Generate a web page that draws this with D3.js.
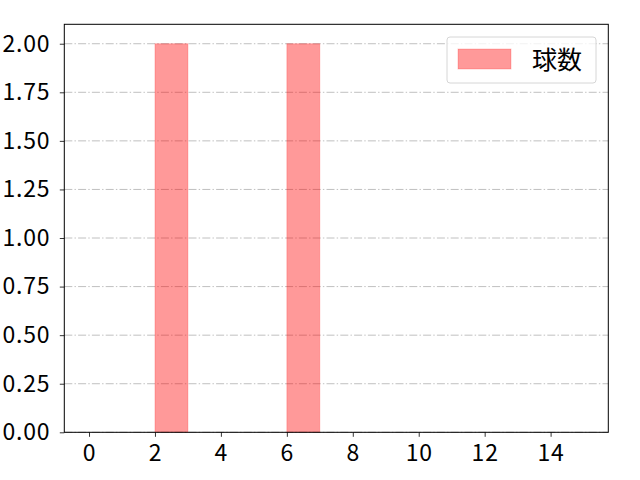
<!DOCTYPE html>
<html>
<head>
<meta charset="utf-8">
<script src="https://cdn.jsdelivr.net/npm/d3@7"></script>
<style>
  body { margin: 0; background: #fff; }
  text { font-family: "Noto Sans CJK JP", "DejaVu Sans", sans-serif; }
</style>
</head>
<body>
<div id="chart"></div>
<script>
// histogram bins (left edge) and counts
const binStarts = [0, 1, 2, 3, 4, 5, 6, 7, 8, 9, 10, 11, 12, 13, 14];
const counts    = [0, 0, 2, 0, 0, 0, 2, 0, 0, 0, 0, 0, 0, 0, 0];
const xTicks = [0, 2, 4, 6, 8, 10, 12, 14];
const yTicks = [0, 0.25, 0.5, 0.75, 1.0, 1.25, 1.5, 1.75, 2.0];
const seriesName = "球数";

const width = 640, height = 480;
const margin = {top: 24.3, right: 31.7, bottom: 47.7, left: 64.3};
const innerW = width - margin.left - margin.right;
const innerH = height - margin.top - margin.bottom;

const svg = d3.select("#chart").append("svg")
    .attr("width", width)
    .attr("height", height);

const g = svg.append("g")
    .attr("transform", `translate(${margin.left},${margin.top})`);

// scales
const x = d3.scaleLinear().domain([-0.75, 15.75]).range([0, innerW]);
const y = d3.scaleLinear().domain([0, 2.1]).range([innerH, 0]);

// grid lines (dash-dot)
g.append("g").selectAll("line")
    .data(yTicks)
    .enter().append("line")
    .attr("x1", 0)
    .attr("x2", innerW)
    .attr("y1", d => y(d))
    .attr("y2", d => y(d))
    .attr("stroke", "#b0b0b0")
    .attr("stroke-width", 0.8)
    .attr("stroke-dasharray", "8,2.2,1.4,2.2");

// bars
g.append("g").selectAll("rect")
    .data(binStarts.map((b, i) => ({x0: b, x1: b + 1, n: counts[i]})).filter(d => d.n > 0))
    .enter().append("rect")
    .attr("x", d => x(d.x0))
    .attr("y", d => y(d.n))
    .attr("width", d => x(d.x1) - x(d.x0))
    .attr("height", d => y(0) - y(d.n))
    .attr("fill", "rgba(255,0,0,0.4)")
    .attr("stroke", "rgba(255,0,0,0.2)")
    .attr("stroke-width", 1);

// axes
const xAxis = d3.axisBottom(x).tickValues(xTicks).tickSize(4.5).tickPadding(8).tickFormat(d3.format("d"));
const yAxis = d3.axisLeft(y).tickValues(yTicks).tickSize(4.5).tickPadding(9.5).tickFormat(d3.format(".2f"));

const styleText = sel => sel
    .attr("font-size", 23)
    .attr("letter-spacing", 0.8)
    .attr("fill", "#000")
    .attr("font-family", "'Noto Sans CJK JP', sans-serif");

g.append("g")
    .attr("transform", `translate(0,${innerH})`)
    .call(xAxis)
    .call(a => a.select(".domain").remove())
    .selectAll("text").call(styleText);

g.append("g")
    .call(yAxis)
    .call(a => a.select(".domain").remove())
    .selectAll("text").call(styleText);

g.selectAll(".tick line").attr("stroke", "#000").attr("stroke-width", 0.8);

// frame
g.append("rect")
    .attr("width", innerW)
    .attr("height", innerH)
    .attr("fill", "none")
    .attr("stroke", "#000")
    .attr("stroke-width", 1);

// legend
const legend = svg.append("g").attr("transform", "translate(447,37)");
legend.append("rect")
    .attr("width", 149)
    .attr("height", 46)
    .attr("rx", 3)
    .attr("fill", "rgba(255,255,255,0.8)")
    .attr("stroke", "#d6d6d6");
legend.append("rect")
    .attr("x", 11)
    .attr("y", 12)
    .attr("width", 53)
    .attr("height", 20)
    .attr("fill", "rgba(255,0,0,0.4)")
    .attr("stroke", "rgba(255,0,0,0.2)");
legend.append("text")
    .attr("x", 85)
    .attr("y", 23)
    .attr("dy", "0.35em")
    .attr("font-size", 25)
    .attr("fill", "#000")
    .text(seriesName);
</script>
</body>
</html>
